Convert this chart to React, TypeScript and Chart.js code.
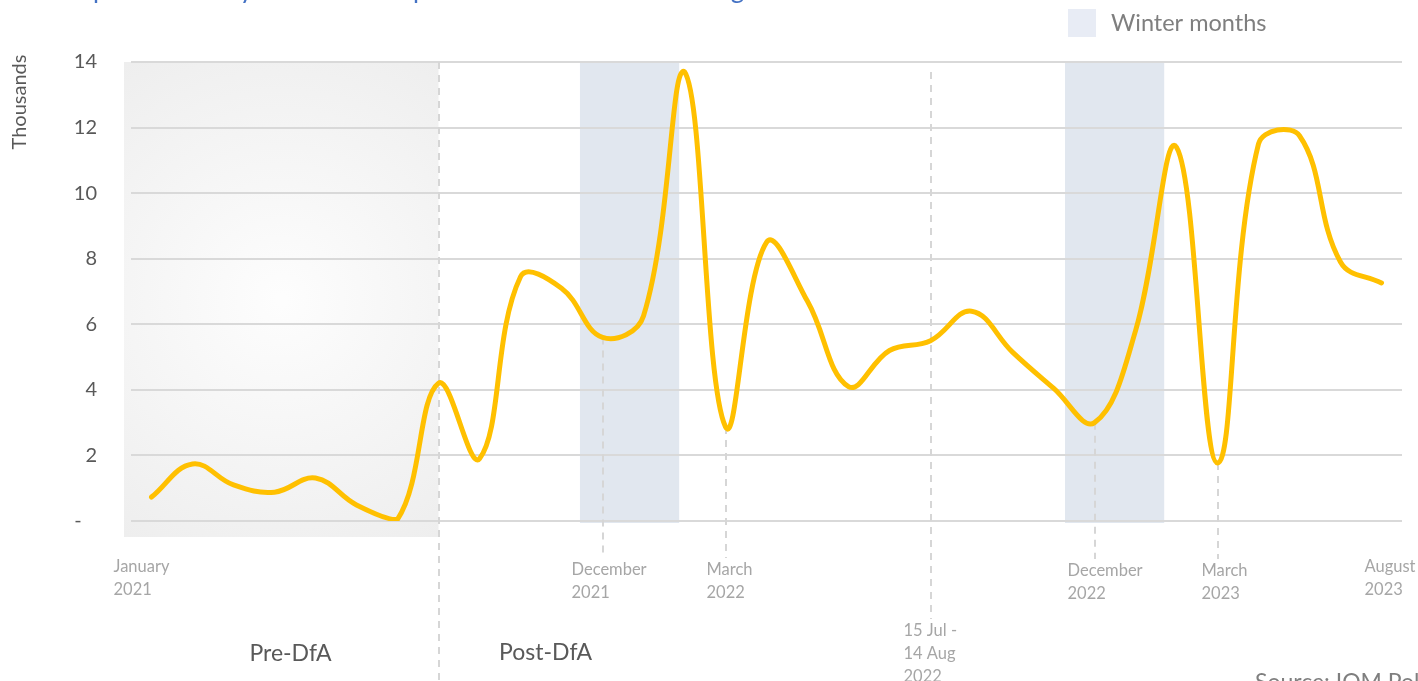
import React, { useEffect, useRef } from 'react';
import { Chart, registerables } from 'chart.js';

Chart.register(...registerables);

// Monthly periods (15th to 14th), labelled by the month they end in
const periods = [
  'Jan 2021', 'Feb 2021', 'Mar 2021', 'Apr 2021', 'May 2021', 'Jun 2021', 'Jul 2021', 'Aug 2021',
  'Sep 2021', 'Oct 2021', 'Nov 2021', 'Dec 2021', 'Jan 2022', 'Feb 2022', 'Mar 2022', 'Apr 2022',
  'May 2022', 'Jun 2022', 'Jul 2022', 'Aug 2022', 'Sep 2022', 'Oct 2022', 'Nov 2022', 'Dec 2022',
  'Jan 2023', 'Feb 2023', 'Mar 2023', 'Apr 2023', 'May 2023', 'Jun 2023', 'Aug 2023',
];

// Values in thousands
const values = [
  0.73, 1.74, 1.1, 0.88, 1.31, 0.49, 0.05, 4.2, 1.9, 7.45, 7.1, 5.6, 6.25, 13.7, 2.87, 8.5,
  6.7, 4.1, 5.2, 5.5, 6.4, 5.15, 4.05, 3.0, 5.8, 11.4, 1.77, 11.5, 11.75, 7.9, 7.26,
];

const yMin = 0;
const yMax = 14;
const yStep = 2;

// Winter shading (category positions)
const winterStart = [10.45, 22.28];
const winterEnd = [12.87, 24.7];

// DfA takeover boundary
const dfaIndex = 7;

// Annotated periods
const markerIndex = [0, 11, 14, 19, 23, 26, 30];
const markerText = [
  ['January', '2021'],
  ['December', '2021'],
  ['March', '2022'],
  ['15 Jul -', '14 Aug', '2022'],
  ['December', '2022'],
  ['March', '2023'],
  ['August', '2023'],
];

const titleText = 'Graph 1: Monthly number of deportations and returns to Afghanistan';
const sourceText = 'Source: IOM Policy';

const FONT = 'Lato, "Open Sans", sans-serif';

// layout of the annotation labels (offset from the point, first line centre, dashed line kind)
const markerLayout = [
  { dx: -38, top: 567, line: 'none' },
  { dx: -31, top: 570, line: 'point' },
  { dx: -19, top: 570, line: 'point' },
  { dx: -27, top: 631, line: 'full' },
  { dx: -27, top: 571, line: 'point' },
  { dx: -16, top: 571, line: 'point' },
  { dx: -17, top: 567, line: 'none' },
];

const overlayPlugin = {
  id: 'overlay',
  beforeDraw(chart: any) {
    const { ctx, chartArea: a, scales } = chart;
    const x = scales.x;
    ctx.save();
    // Pre-DfA shaded panel
    const dfaX = x.getPixelForValue(dfaIndex);
    const left = a.left - 7;
    const top = a.top;
    const bottom = a.bottom + 16;
    const cx = (left + dfaX) / 2;
    const cy = (top + bottom) / 2;
    const g = ctx.createRadialGradient(cx, cy, 5, cx, cy, 320);
    g.addColorStop(0, '#fdfdfd');
    g.addColorStop(1, '#ececec');
    ctx.fillStyle = g;
    ctx.fillRect(left, top, dfaX - left, bottom - top);
    // Winter months
    ctx.fillStyle = '#e1e7ef';
    winterStart.forEach((s, i) => {
      const x0 = x.getPixelForValue(s);
      const x1 = x.getPixelForValue(winterEnd[i]);
      ctx.fillRect(x0, a.top, x1 - x0, a.bottom - a.top + 2);
    });
    ctx.restore();
  },
  beforeDatasetsDraw(chart: any) {
    const { ctx, chartArea: a, scales } = chart;
    const x = scales.x;
    const meta = chart.getDatasetMeta(0);
    ctx.save();
    ctx.strokeStyle = '#d6d6d6';
    ctx.lineWidth = 2;
    ctx.setLineDash([7, 6]);
    // DfA line
    const dfaX = Math.round(x.getPixelForValue(dfaIndex));
    ctx.beginPath();
    ctx.moveTo(dfaX, a.top);
    ctx.lineTo(dfaX, chart.height);
    ctx.stroke();
    markerIndex.forEach((idx, i) => {
      const lay = markerLayout[i];
      if (lay.line === 'none') return;
      const px = Math.round(x.getPixelForValue(idx));
      const y0 = lay.line === 'point' ? meta.data[idx].y : a.top + 10;
      ctx.beginPath();
      ctx.moveTo(px, y0);
      ctx.lineTo(px, lay.top - 12);
      ctx.stroke();
    });
    ctx.restore();
  },
  afterDraw(chart: any) {
    const { ctx, chartArea: a, scales } = chart;
    const x = scales.x;
    ctx.save();
    // Title (cut off at the top edge)
    ctx.fillStyle = '#4472c4';
    ctx.font = `26px ${FONT}`;
    ctx.textAlign = 'left';
    ctx.textBaseline = 'alphabetic';
    ctx.fillText(titleText, 52, -2);

    // Y axis title
    ctx.save();
    ctx.translate(20, 102);
    ctx.rotate(-Math.PI / 2);
    ctx.fillStyle = '#595959';
    ctx.font = `20px ${FONT}`;
    ctx.textAlign = 'center';
    ctx.textBaseline = 'middle';
    ctx.fillText('Thousands', 0, 0);
    ctx.restore();

    // Legend
    ctx.fillStyle = '#e8ecf5';
    ctx.fillRect(a.right - 334, 9, 28, 28);
    ctx.fillStyle = '#7f7f7f';
    ctx.font = `23.5px ${FONT}`;
    ctx.textAlign = 'left';
    ctx.textBaseline = 'middle';
    ctx.fillText('Winter months', a.right - 291, 23);

    // Marker labels
    ctx.fillStyle = '#a6a6a6';
    ctx.font = `16.5px ${FONT}`;
    ctx.textBaseline = 'middle';
    markerIndex.forEach((idx, i) => {
      const lay = markerLayout[i];
      const px = x.getPixelForValue(idx) + lay.dx;
      markerText[i].forEach((line, j) => {
        ctx.fillText(line, px, lay.top + j * 23);
      });
    });

    // Pre / Post DfA
    const dfaX = x.getPixelForValue(dfaIndex);
    ctx.fillStyle = '#595959';
    ctx.font = `23px ${FONT}`;
    ctx.textAlign = 'center';
    ctx.fillText('Pre-DfA', dfaX - 148, 654);
    ctx.fillText('Post-DfA', dfaX + 107, 653);

    // Source
    ctx.fillStyle = '#7f7f7f';
    ctx.font = `23px ${FONT}`;
    ctx.textAlign = 'left';
    ctx.textBaseline = 'top';
    ctx.fillText(sourceText, 1255, 671);
    ctx.restore();
  },
};

export default function App() {
  const ref = useRef<HTMLCanvasElement | null>(null);

  useEffect(() => {
    if (!ref.current) return;
    const chart = new Chart(ref.current, {
      type: 'line',
      data: {
        labels: periods,
        datasets: [
          {
            label: 'Thousands',
            data: values,
            borderColor: '#ffc000',
            borderWidth: 5,
            borderCapStyle: 'round',
            borderJoinStyle: 'round',
            pointRadius: 0,
            tension: 0.4,
            fill: false,
          },
        ],
      },
      options: {
        responsive: false,
        animation: false,
        layout: { padding: { left: 0, top: 62, right: 16, bottom: 160 } },
        plugins: {
          legend: { display: false },
          tooltip: { enabled: false },
          title: { display: false },
        },
        scales: {
          x: {
            type: 'category',
            offset: true,
            display: false,
          },
          y: {
            min: yMin,
            max: yMax,
            afterFit: (scale: any) => {
              scale.width = 131;
            },
            border: { display: false },
            grid: { color: '#d9d9d9', lineWidth: 2, drawTicks: false },
            ticks: {
              stepSize: yStep,
              padding: 34,
              color: '#595959',
              font: { family: FONT, size: 20 },
              callback: (v: any) => (Number(v) === 0 ? '-   ' : String(v)),
            },
          },
        },
      },
      plugins: [overlayPlugin],
    });
    return () => chart.destroy();
  }, []);

  return (
    <div style={{ position: 'fixed', left: 0, top: 0, width: 1418, height: 681 }}>
      <canvas ref={ref} width={1418} height={681} style={{ display: 'block' }} />
    </div>
  );
}
